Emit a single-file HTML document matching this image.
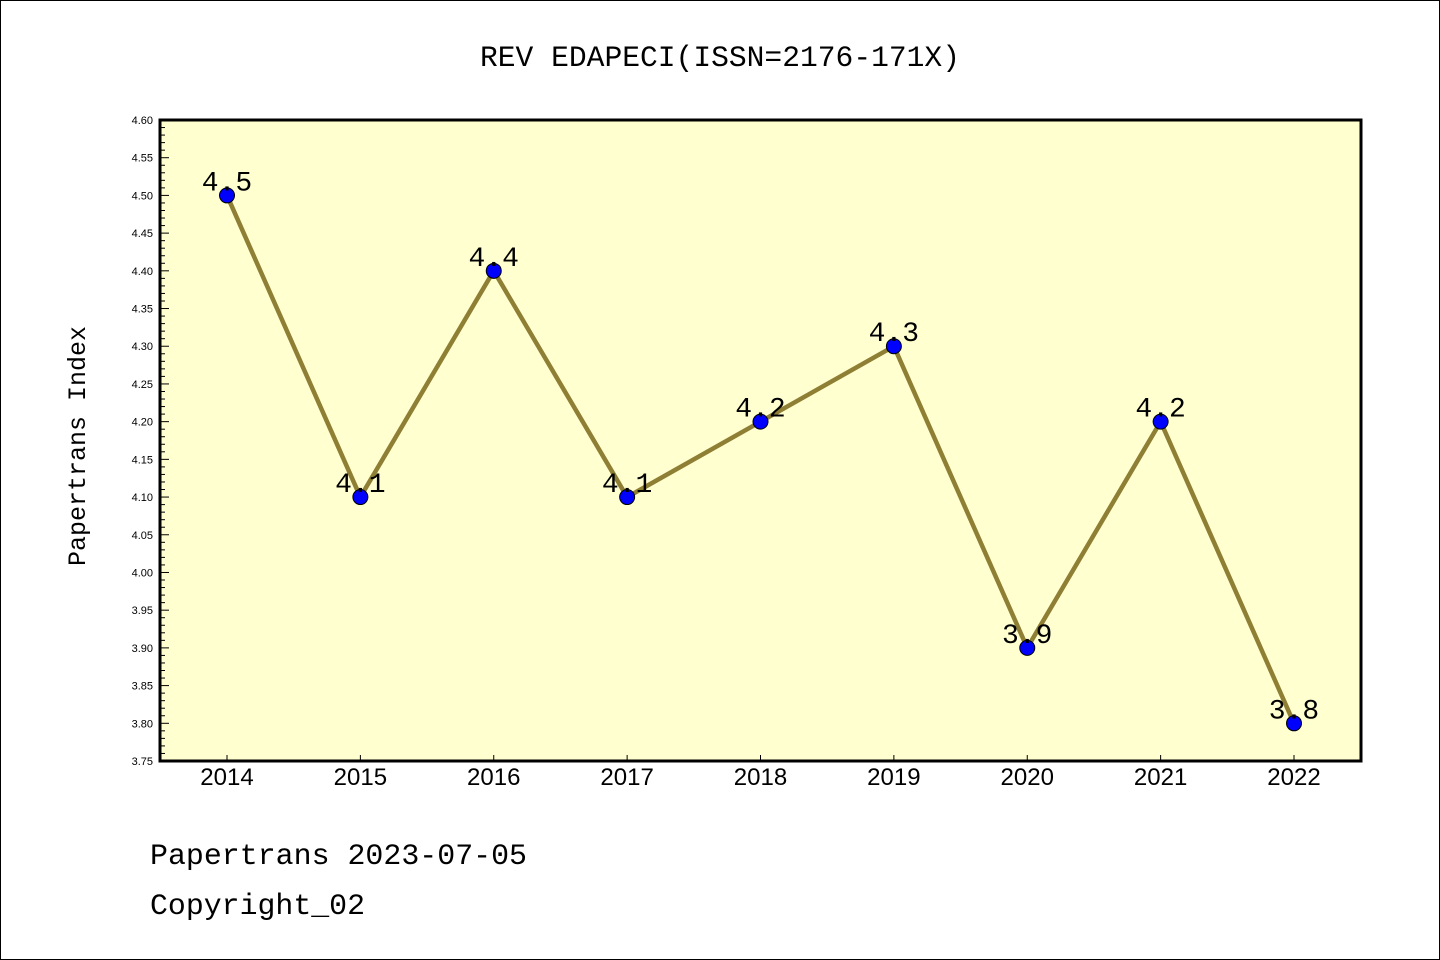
<!DOCTYPE html>
<html><head><meta charset="utf-8"><style>
html,body{margin:0;padding:0;background:#fff}
svg{display:block}
text{font-family:"Liberation Sans","DejaVu Sans",sans-serif}
.m{font-family:"Liberation Mono","DejaVu Sans Mono",monospace}
</style></head><body>
<svg id="s" width="1440" height="960" xmlns="http://www.w3.org/2000/svg">
<rect x="0.5" y="0.5" width="1439" height="959" fill="#fff" stroke="#000" stroke-width="1"/>
<text x="720" y="66" text-anchor="middle" font-size="30" class="m" textLength="480" lengthAdjust="spacingAndGlyphs">REV EDAPECI(ISSN=2176-171X)</text>
<rect x="160" y="120" width="1201" height="641" fill="#ffffd0"/>
<g id="ticks" stroke="#000" stroke-width="1"></g>
<g id="labels" font-size="11"></g>
<polyline id="line" fill="none" stroke="#8f7f35" stroke-width="4.5"/>
<g id="pts"></g>
<rect x="160" y="120" width="1201" height="641" fill="none" stroke="#000" stroke-width="3"/>
<text transform="translate(85,446) rotate(-90)" text-anchor="middle" font-size="25" class="m">Papertrans Index</text>
<text x="150" y="864" font-size="30" class="m" textLength="377" lengthAdjust="spacingAndGlyphs">Papertrans 2023-07-05</text>
<text x="150" y="914" font-size="30" class="m" textLength="215" lengthAdjust="spacingAndGlyphs">Copyright_02</text>
</svg>
<script>
var NS="http://www.w3.org/2000/svg";
function el(t,a,p,txt){var e=document.createElementNS(NS,t);for(var k in a)e.setAttribute(k,a[k]);if(txt!==undefined)e.textContent=txt;document.getElementById(p).appendChild(e);return e;}
function Y(v){return 120+(4.60-v)/0.85*641;}
function X(i){return 227+i*133.375;}
for(var i=0;i<=85;i++){var v=3.75+i*0.01,y=Y(v),maj=(i%5==0);
 el("line",{x1:160,x2:160+(maj?9:5),y1:y,y2:y},"ticks");
 if(maj)el("text",{x:153,y:y+4,"text-anchor":"end"},"labels",v.toFixed(2));}
var d=[4.5,4.1,4.4,4.1,4.2,4.3,3.9,4.2,3.8],pts=[];
for(var i=0;i<9;i++){var x=X(i),y=Y(d[i]);pts.push(x+","+y);
 el("line",{x1:x,x2:x,y1:761,y2:755},"ticks");
 el("text",{x:x,y:785,"text-anchor":"middle","font-size":"24"},"labels",String(2014+i));}
document.getElementById("line").setAttribute("points",pts.join(" "));
for(var i=0;i<9;i++){var x=X(i),y=Y(d[i]);
 el("circle",{cx:x,cy:y,r:7.5,fill:"#0000ff",stroke:"#000","stroke-width":1},"pts");
 el("text",{x:x,y:y-5,"text-anchor":"middle","font-size":"28","class":"m"},"pts",d[i].toFixed(1));}
</script>
</body></html>
